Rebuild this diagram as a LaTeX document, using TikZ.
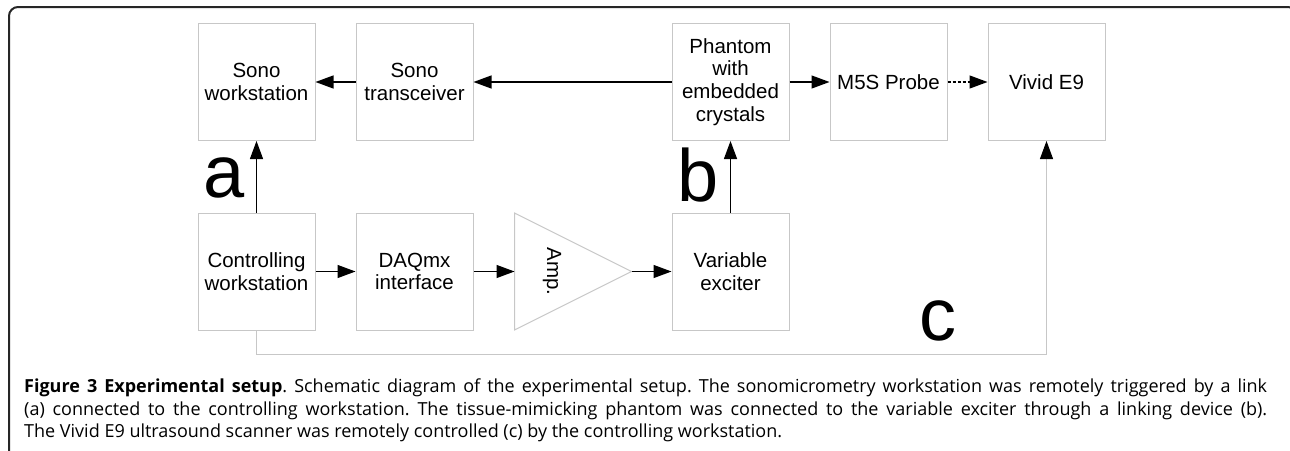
\documentclass[tikz,border=0pt]{standalone}
\usepackage{fontspec}
\newfontfamily\boxfont{Liberation Sans}
\newfontfamily\capfont{Open Sans}
\usetikzlibrary{arrows.meta}

\begin{document}
\begin{tikzpicture}
        % 坐标按像素给出, y 轴向下
        [x=1pt,y=-1pt,
        BoxNode/.style={draw=black!22, line width=1pt, minimum width=117pt, minimum height=117pt, inner sep=0pt, align=center, font=\boxfont\fontsize{20.5}{22.7}\selectfont},
        LinkLine/.style={line width=1.3pt, -{Triangle[length=18pt,width=13pt]}},
        BigLabel/.style={anchor=base, inner sep=0pt, font=\boxfont\fontsize{74}{74}\selectfont}]

        \useasboundingbox (0,0) rectangle (1290,450);
        \clip (0,0) rectangle (1290,450);

        % 外框 (只见上边和左边)
        \draw[black!85, line width=2pt, rounded corners=9pt] (9,470) -- (9,7) -- (1297,7) -- (1297,470);

        % 上排结点
        \foreach \n/\x/\t in {sono/256.5/{Sono\\workstation}, trans/414.5/{Sono\\transceiver},
                              phan/730.5/{Phantom\\with\\embedded\\crystals}, probe/888.5/{M5S Probe},
                              vivid/1046.5/{Vivid E9}}
        \node[BoxNode] (\n) at (\x, 82) {\t};

        % 下排结点
        \foreach \n/\x/\t in {ctrl/256.5/{Controlling\\workstation}, daq/414.5/{DAQmx\\interface},
                              exc/730.5/{Variable\\exciter}}
        \node[BoxNode] (\n) at (\x, 271.5) {\t};

        % 放大器三角形
        \draw[black!22, line width=1pt] (514.5,213) -- (631.5,271.5) -- (514.5,330) -- cycle;
        \coordinate (ampin) at (514.5,271.5);
        \coordinate (ampout) at (631.5,271.5);
        \node[font=\boxfont\fontsize{20.5}{22.7}\selectfont, rotate=-90] (amp) at (552,271.5) {Amp.};

        % 上排连线
        \draw[LinkLine] (trans) -- (sono);
        \draw[LinkLine] (phan) -- (trans);
        \draw[LinkLine] (phan) -- (probe);
        \draw[LinkLine, dash pattern=on 3pt off 2pt] (probe) -- (vivid);

        % 下排连线
        \draw[LinkLine] (ctrl) -- (daq);
        \draw[LinkLine] (daq) -- (ampin);
        \draw[LinkLine] (ampout) -- (exc);

        % a, b, c 三条链接
        \draw[LinkLine] (ctrl) -- (sono);
        \draw[LinkLine] (exc) -- (phan);
        \draw[draw=black!22, line width=1pt, -{Triangle[length=18pt,width=13pt,color=black]}]
            (ctrl.south) -- ++(0,24) -| (vivid.south);

        \node[BigLabel] (la) at (224,197) {a};
        \node[BigLabel] (lb) at (698,201) {b};
        \node[BigLabel] (lc) at (938,340) {c};

        % 图注
        \node[anchor=north west, inner sep=0pt, text width=1243pt, align=justify,
              font=\capfont\fontsize{18}{22.3}\selectfont\frenchspacing] (cap) at (24,379)
        {\textbf{Figure 3 Experimental setup}. Schematic diagram of the experimental setup. The sonomicrometry workstation was remotely triggered by a link\linebreak
         (a) connected to the controlling workstation. The tissue-mimicking phantom was connected to the variable exciter through a linking device (b).\linebreak
         The Vivid E9 ultrasound scanner was remotely controlled (c) by the controlling workstation.};
    \end{tikzpicture}
\end{document}
